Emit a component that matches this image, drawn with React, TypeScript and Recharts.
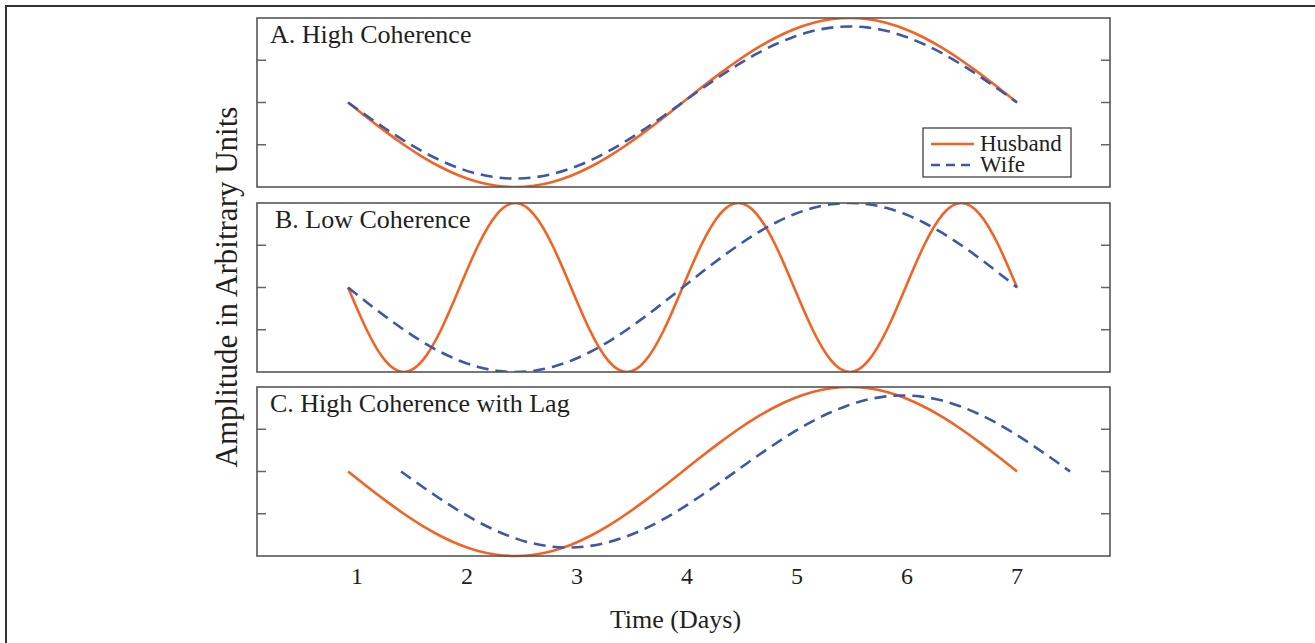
import { LineChart, Line, XAxis, YAxis } from "recharts"

const FONT = '"Liberation Serif", "DejaVu Serif", serif'
const INK = "#231f20"
const HUSBAND_COLOR = "#f26424"
const WIFE_COLOR = "#3f57a8"

// x positions (days) for the husband curves and the un-lagged wife curves
const timeGrid = [
  0.918, 1.087, 1.256, 1.425, 1.594, 1.763, 1.932, 2.101, 2.27, 2.438, 2.607, 2.776, 2.945,
  3.114, 3.283, 3.452, 3.621, 3.79, 3.959, 4.128, 4.297, 4.466, 4.635, 4.804, 4.973, 5.142,
  5.311, 5.48, 5.648, 5.817, 5.986, 6.155, 6.324, 6.493, 6.662, 6.831, 7.0,
]
// wife in panel C starts about half a day later
const lagTimeGrid = [
  1.4, 1.569, 1.738, 1.907, 2.076, 2.245, 2.414, 2.583, 2.752, 2.92, 3.089, 3.258, 3.427,
  3.596, 3.765, 3.934, 4.103, 4.272, 4.441, 4.61, 4.779, 4.948, 5.117, 5.286, 5.455, 5.624,
  5.793, 5.962, 6.13, 6.299, 6.468, 6.637, 6.806, 6.975, 7.144, 7.313, 7.482,
]

const husbandA = [
  0, -0.174, -0.342, -0.5, -0.643, -0.766, -0.866, -0.94, -0.985, -1, -0.985, -0.94, -0.866,
  -0.766, -0.643, -0.5, -0.342, -0.174, 0, 0.174, 0.342, 0.5, 0.643, 0.766, 0.866, 0.94, 0.985,
  1, 0.985, 0.94, 0.866, 0.766, 0.643, 0.5, 0.342, 0.174, 0,
]
const wifeA = [
  0, -0.157, -0.308, -0.45, -0.579, -0.689, -0.779, -0.846, -0.886, -0.9, -0.886, -0.846,
  -0.779, -0.689, -0.579, -0.45, -0.308, -0.157, 0, 0.157, 0.308, 0.45, 0.579, 0.689, 0.779,
  0.846, 0.886, 0.9, 0.886, 0.846, 0.779, 0.689, 0.579, 0.45, 0.308, 0.157, 0,
]
const husbandB = [
  0, -0.5, -0.866, -1, -0.866, -0.5, 0, 0.5, 0.866, 1, 0.866, 0.5,
  0, -0.5, -0.866, -1, -0.866, -0.5, 0, 0.5, 0.866, 1, 0.866, 0.5,
  0, -0.5, -0.866, -1, -0.866, -0.5, 0, 0.5, 0.866, 1, 0.866, 0.5, 0,
]
const wifeB = [
  0, -0.174, -0.342, -0.5, -0.643, -0.766, -0.866, -0.94, -0.985, -1, -0.985, -0.94, -0.866,
  -0.766, -0.643, -0.5, -0.342, -0.174, 0, 0.174, 0.342, 0.5, 0.643, 0.766, 0.866, 0.94, 0.985,
  1, 0.985, 0.94, 0.866, 0.766, 0.643, 0.5, 0.342, 0.174, 0,
]
const husbandC = [
  0, -0.174, -0.342, -0.5, -0.643, -0.766, -0.866, -0.94, -0.985, -1, -0.985, -0.94, -0.866,
  -0.766, -0.643, -0.5, -0.342, -0.174, 0, 0.174, 0.342, 0.5, 0.643, 0.766, 0.866, 0.94, 0.985,
  1, 0.985, 0.94, 0.866, 0.766, 0.643, 0.5, 0.342, 0.174, 0,
]
const wifeC = [
  0, -0.157, -0.308, -0.45, -0.579, -0.689, -0.779, -0.846, -0.886, -0.9, -0.886, -0.846,
  -0.779, -0.689, -0.579, -0.45, -0.308, -0.157, 0, 0.157, 0.308, 0.45, 0.579, 0.689, 0.779,
  0.846, 0.886, 0.9, 0.886, 0.846, 0.779, 0.689, 0.579, 0.45, 0.308, 0.157, 0,
]

const dayTicks = [1, 2, 3, 4, 5, 6, 7]
const levelTicks = [-0.5, 0, 0.5]

const PLOT_LEFT = 257
const PLOT_WIDTH = 853
const PLOT_HEIGHT = 169

const toPoints = (ts: number[], vs: number[]) => ts.map((t, i) => ({ t, v: vs[i] }))

interface Series {
  name: string
  times: number[]
  values: number[]
  dashed?: boolean
}

interface PanelProps {
  top: number
  title: string
  titleX: number
  series: Series[]
  showTime?: boolean
}

function Panel({ top, title, titleX, series, showTime }: PanelProps) {
  const axisHeight = showTime ? 85 : 0
  return (
    <div style={{ position: "absolute", left: PLOT_LEFT, top }}>
      <LineChart
        width={PLOT_WIDTH}
        height={PLOT_HEIGHT + axisHeight}
        margin={{ top: 0, right: 0, bottom: 0, left: 0 }}
      >
        <XAxis
          dataKey="t"
          type="number"
          domain={[0.09, 7.845]}
          ticks={dayTicks}
          hide={!showTime}
          height={axisHeight || 30}
          axisLine={false}
          tickLine={false}
          tickSize={0}
          tickMargin={11}
          tick={{ fontSize: 24, fill: INK, fontFamily: FONT }}
          label={
            showTime
              ? { value: "Time (Days)", position: "insideBottom", offset: 13, dx: -8, fontSize: 26, fill: INK, fontFamily: FONT }
              : undefined
          }
        />
        <YAxis
          yAxisId="l"
          domain={[-1, 1]}
          ticks={levelTicks}
          mirror
          width={1}
          tickFormatter={() => ""}
          axisLine={false}
          tickSize={9}
          tickLine={{ stroke: "#666", strokeWidth: 1.5 }}
        />
        <YAxis
          yAxisId="r"
          orientation="right"
          domain={[-1, 1]}
          ticks={levelTicks}
          mirror
          width={1}
          tickFormatter={() => ""}
          axisLine={false}
          tickSize={9}
          tickLine={{ stroke: "#666", strokeWidth: 1.5 }}
        />
        {series.map((s) => (
          <Line
            key={s.name}
            yAxisId={s.dashed ? "r" : "l"}
            data={toPoints(s.times, s.values)}
            dataKey="v"
            name={s.name}
            type="natural"
            stroke={s.dashed ? WIFE_COLOR : HUSBAND_COLOR}
            strokeWidth={2.6}
            strokeDasharray={s.dashed ? "12 7" : undefined}
            dot={false}
            activeDot={false}
            isAnimationActive={false}
          />
        ))}
      </LineChart>
      <svg
        width={PLOT_WIDTH}
        height={PLOT_HEIGHT}
        style={{ position: "absolute", left: 0, top: 0, pointerEvents: "none", overflow: "visible" }}
      >
        <rect x={0} y={0} width={PLOT_WIDTH} height={PLOT_HEIGHT} fill="none" stroke="#555" strokeWidth={1.6} />
        <text x={titleX} y={25} fontSize={26} fill={INK} fontFamily={FONT}>
          {title}
        </text>
      </svg>
    </div>
  )
}

function Legend() {
  return (
    <svg width={150} height={51} style={{ position: "absolute", left: 922, top: 127 }}>
      <rect x={1} y={1} width={148} height={49} fill="#fff" stroke="#333" strokeWidth={1.2} />
      <line x1={9} y1={17} x2={52} y2={17} stroke={HUSBAND_COLOR} strokeWidth={2.6} />
      <text x={58} y={24} fontSize={23} fill={INK} fontFamily={FONT}>Husband</text>
      <line x1={9} y1={38} x2={52} y2={38} stroke={WIFE_COLOR} strokeWidth={2.6} strokeDasharray="9 6" />
      <text x={58} y={45} fontSize={23} fill={INK} fontFamily={FONT}>Wife</text>
    </svg>
  )
}

export default function App() {
  return (
    <div style={{ position: "absolute", left: 0, top: 0, width: 1315, height: 643, background: "#fff", overflow: "hidden" }}>
      <svg width={1315} height={643} style={{ position: "absolute", left: 0, top: 0 }}>
        <path d="M6 643 V6 H1315" fill="none" stroke="#333" strokeWidth={2} />
        <text
          transform="translate(237 287) rotate(-90)"
          textAnchor="middle"
          fontSize={31}
          fill={INK}
          fontFamily={FONT}
        >
          Amplitude in Arbitrary Units
        </text>
      </svg>
      <Panel
        top={18}
        title="A. High Coherence"
        titleX={13}
        series={[
          { name: "Husband", times: timeGrid, values: husbandA },
          { name: "Wife", times: timeGrid, values: wifeA, dashed: true },
        ]}
      />
      <Legend />
      <Panel
        top={203}
        title="B. Low Coherence"
        titleX={18}
        series={[
          { name: "Husband", times: timeGrid, values: husbandB },
          { name: "Wife", times: timeGrid, values: wifeB, dashed: true },
        ]}
      />
      <Panel
        top={387}
        title="C. High Coherence with Lag"
        titleX={13}
        showTime
        series={[
          { name: "Husband", times: timeGrid, values: husbandC },
          { name: "Wife", times: lagTimeGrid, values: wifeC, dashed: true },
        ]}
      />
    </div>
  )
}
